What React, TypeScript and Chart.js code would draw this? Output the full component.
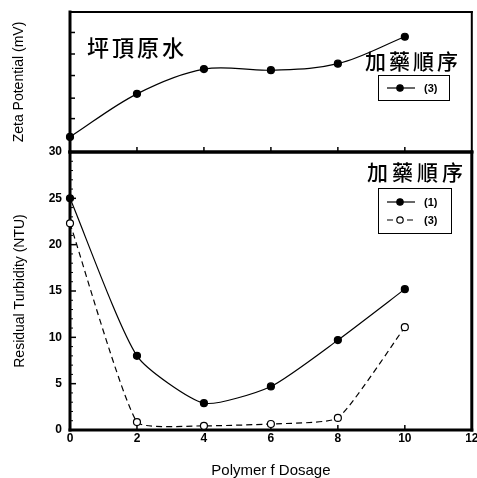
import React, { useEffect, useRef } from "react";
import { Chart, registerables } from "chart.js";
Chart.register(...registerables);

const dosage = [0, 2, 4, 6, 8, 10];
const zetaOrder3 = [30.7, 32.7, 33.85, 33.8, 34.1, 35.35];
const turbOrder1 = [25, 8, 2.9, 4.7, 9.7, 15.2];
const turbOrder3 = [22.3, 0.85, 0.45, 0.65, 1.3, 11.1];
const xTickValues = [0, 2, 4, 6, 8, 10, 12];
const zetaTickValues = [30, 31.55, 32.5, 33.55, 34.55, 35.55];
const turbTickValues = [0, 5, 10, 15, 20, 25, 30];
const zetaTitle = "Zeta Potential (mV)";
const turbTitle = "Residual Turbidity (NTU)";
const xTitle = "Polymer f Dosage";
const sampleName = "坪頂原水";
const legendTitle = "加藥順序";
const seriesLabels = ["(1)", "(3)"];

const SANS = "'Liberation Sans', Arial, sans-serif";
const CJK = "'Noto Sans CJK TC', 'Noto Sans CJK SC', sans-serif";

function seg(ctx: CanvasRenderingContext2D, x1: number, y1: number, x2: number, y2: number, w: number) {
  ctx.lineWidth = w;
  ctx.beginPath();
  ctx.moveTo(x1, y1);
  ctx.lineTo(x2, y2);
  ctx.stroke();
}

function framePlugin(kind: "top" | "bottom") {
  return {
    id: "frame-" + kind,
    beforeDatasetsDraw(chart: any) {
      const { ctx, chartArea: a, scales } = chart;
      ctx.save();
      ctx.strokeStyle = "#000";
      ctx.lineCap = "square";
      seg(ctx, a.left, a.top, a.left, a.bottom, 3);
      seg(ctx, a.left, a.bottom, a.right, a.bottom, 3);
      seg(ctx, a.right, a.top, a.right, a.bottom, kind === "top" ? 2 : 3);
      seg(ctx, a.left, a.top, a.right, a.top, kind === "top" ? 2 : 3);
      ctx.lineCap = "butt";
      xTickValues.forEach((v) => {
        if (v <= 0 || v >= 12) return;
        const x = scales.x.getPixelForValue(v);
        seg(ctx, x, a.bottom, x, a.bottom - 5, 1.5);
      });
      if (kind === "top") {
        zetaTickValues.forEach((v) => {
          if (v <= 30) return;
          const y = scales.y.getPixelForValue(v);
          seg(ctx, a.left, y, a.left + 5, y, 1.5);
        });
      } else {
        for (let v = 1; v < 30; v++) {
          const y = scales.y.getPixelForValue(v);
          const major = turbTickValues.includes(v);
          seg(ctx, a.left, y, a.left + (major ? 6 : 3), y, major ? 1.5 : 1);
        }
      }
      ctx.restore();
    },
  };
}

function legendPlugin(box: { x: number; y: number; w: number; h: number }, rows: number[]) {
  return {
    id: "boxlegend",
    afterDraw(chart: any) {
      const ctx: CanvasRenderingContext2D = chart.ctx;
      ctx.save();
      ctx.strokeStyle = "#000";
      ctx.lineWidth = 1;
      ctx.strokeRect(box.x + 0.5, box.y + 0.5, box.w, box.h);
      chart.data.datasets.forEach((ds: any, i: number) => {
        const y = rows[i];
        ctx.lineWidth = 1.2;
        ctx.setLineDash(ds.borderDash || []);
        ctx.beginPath();
        ctx.moveTo(box.x + 9, y);
        ctx.lineTo(box.x + 37, y);
        ctx.stroke();
        ctx.setLineDash([]);
        ctx.beginPath();
        ctx.arc(box.x + 22, y, 3.2, 0, Math.PI * 2);
        ctx.fillStyle = ds.pointBackgroundColor;
        ctx.fill();
        ctx.stroke();
        ctx.fillStyle = "#000";
        ctx.font = "bold 11px " + SANS;
        ctx.textBaseline = "middle";
        ctx.textAlign = "left";
        ctx.fillText(ds.label, box.x + 46, y + 0.5);
      });
      ctx.restore();
    },
  };
}

const tickFont = { family: SANS, size: 12, weight: "bold" as const };

export default function App() {
  const topRef = useRef<HTMLCanvasElement>(null);
  const botRef = useRef<HTMLCanvasElement>(null);

  useEffect(() => {
    const top = new Chart(topRef.current!, {
      type: "line",
      data: {
        datasets: [
          {
            label: seriesLabels[1],
            data: dosage.map((x, i) => ({ x, y: zetaOrder3[i] })),
            borderColor: "#000",
            borderWidth: 1.2,
            tension: 0.35,
            pointRadius: 3.5,
            pointBackgroundColor: "#000",
            pointBorderColor: "#000",
            clip: false as any,
          },
        ],
      },
      options: {
        responsive: false,
        animation: false,
        layout: { padding: { top: 12, right: 3, bottom: 8, left: 0 } },
        plugins: { legend: { display: false }, tooltip: { enabled: false } },
        scales: {
          x: { type: "linear", min: 0, max: 12, display: false },
          y: {
            type: "linear",
            min: 30,
            max: 36.5,
            grid: { display: false, drawTicks: false },
            border: { display: false },
            ticks: { display: false },
            afterBuildTicks: (s: any) => {
              s.ticks = zetaTickValues.map((v) => ({ value: v }));
            },
            afterFit: (s: any) => {
              s.width = 70;
              s.paddingTop = 0;
              s.paddingBottom = 0;
            },
            title: {
              display: true,
              text: zetaTitle,
              color: "#000",
              font: { family: SANS, size: 14 },
              padding: { top: 11, bottom: 0 },
            },
          },
        },
      },
      plugins: [framePlugin("top"), legendPlugin({ x: 378, y: 75, w: 71, h: 25 }, [88])],
    } as any);

    const bot = new Chart(botRef.current!, {
      type: "line",
      data: {
        datasets: [
          {
            label: seriesLabels[0],
            data: dosage.map((x, i) => ({ x, y: turbOrder1[i] })),
            borderColor: "#000",
            borderWidth: 1.2,
            tension: 0.2,
            pointRadius: 3.5,
            pointBackgroundColor: "#000",
            pointBorderColor: "#000",
            clip: false as any,
          },
          {
            label: seriesLabels[1],
            data: dosage.map((x, i) => ({ x, y: turbOrder3[i] })),
            borderColor: "#000",
            borderWidth: 1.2,
            borderDash: [6, 4],
            tension: 0.15,
            pointRadius: 3.5,
            pointBackgroundColor: "#fff",
            pointBorderColor: "#000",
            pointBorderWidth: 1.2,
            clip: false as any,
          },
        ],
      },
      options: {
        responsive: false,
        animation: false,
        layout: { padding: { top: 12, right: 3, bottom: 0, left: 0 } },
        plugins: { legend: { display: false }, tooltip: { enabled: false } },
        scales: {
          x: {
            type: "linear",
            min: 0,
            max: 12,
            grid: { display: false, drawTicks: false },
            border: { display: false },
            afterBuildTicks: (s: any) => {
              s.ticks = xTickValues.map((v) => ({ value: v }));
            },
            afterFit: (s: any) => {
              s.height = 50;
              s.paddingLeft = 0;
              s.paddingRight = 0;
            },
            ticks: { autoSkip: false, maxRotation: 0, padding: 1, color: "#000", font: tickFont },
            title: {
              display: true,
              text: xTitle,
              color: "#000",
              font: { family: SANS, size: 15 },
              padding: { top: 0, bottom: 0 },
            },
          },
          y: {
            type: "linear",
            min: 0,
            max: 30,
            grid: { display: false, drawTicks: false },
            border: { display: false },
            afterBuildTicks: (s: any) => {
              s.ticks = turbTickValues.map((v) => ({ value: v }));
            },
            afterFit: (s: any) => {
              s.width = 70;
              s.paddingTop = 0;
              s.paddingBottom = 0;
            },
            ticks: { autoSkip: false, padding: 8, color: "#000", font: tickFont },
            title: {
              display: true,
              text: turbTitle,
              color: "#000",
              font: { family: SANS, size: 14 },
              padding: { top: 12, bottom: 0 },
            },
          },
        },
      },
      plugins: [framePlugin("bottom"), legendPlugin({ x: 378, y: 48, w: 73, h: 45 }, [62, 80])],
    } as any);

    return () => {
      top.destroy();
      bot.destroy();
    };
  }, []);

  const cjk = (left: number, top: number, size: number, spacing: number): React.CSSProperties => ({
    position: "absolute",
    left,
    top,
    fontFamily: CJK,
    fontSize: size,
    lineHeight: size + "px",
    letterSpacing: spacing,
    color: "#000",
    whiteSpace: "nowrap",
    fontWeight: 500,
  });

  return (
    <div style={{ position: "absolute", left: 0, top: 0, width: 477, height: 478, background: "#fff", overflow: "hidden" }}>
      <canvas ref={topRef} width={477} height={160} style={{ position: "absolute", left: 0, top: 0, width: 477, height: 160 }} />
      <canvas ref={botRef} width={477} height={340} style={{ position: "absolute", left: 0, top: 140, width: 477, height: 340 }} />
      <div style={cjk(87, 35, 22, 3)}>{sampleName}</div>
      <div style={cjk(365, 50, 21, 3)}>{legendTitle}</div>
      <div style={cjk(367, 161, 21, 4)}>{legendTitle}</div>
    </div>
  );
}
